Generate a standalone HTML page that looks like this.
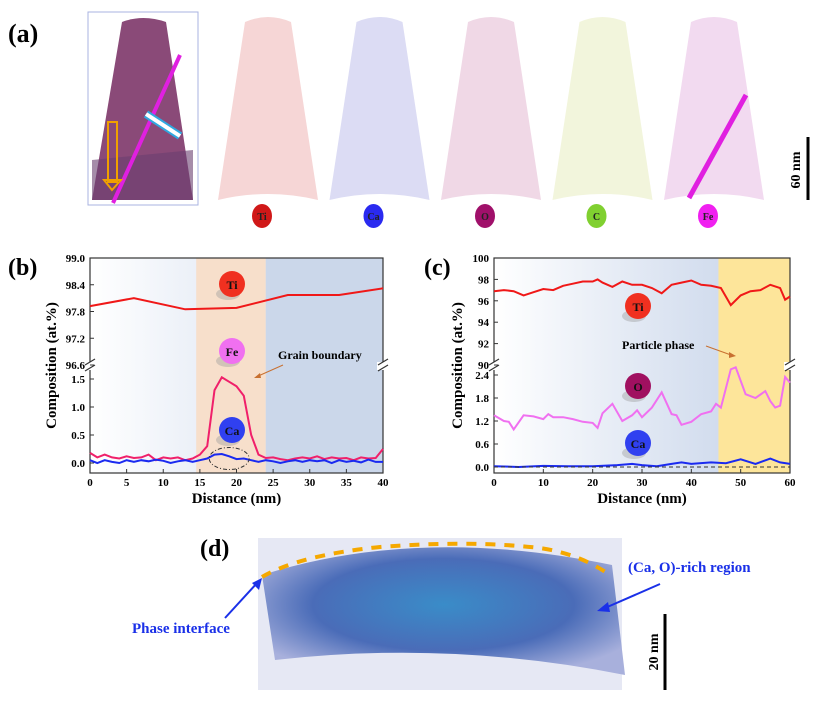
<!DOCTYPE html>
<html><head><meta charset="utf-8">
<style>
html,body{margin:0;padding:0;background:#fff;}
svg{display:block;font-family:"Liberation Serif",serif;font-weight:bold;}
</style></head>
<body>
<svg id="fig" width="834" height="710" viewBox="0 0 834 710" xmlns="http://www.w3.org/2000/svg">
<defs>
 <linearGradient id="gb" x1="0" x2="1"><stop offset="0" stop-color="#fff"/><stop offset="1" stop-color="#c9d6eb"/></linearGradient>
 <linearGradient id="gc" x1="0" x2="1"><stop offset="0" stop-color="#fff"/><stop offset="1" stop-color="#c3d1e8"/></linearGradient>
 <radialGradient id="cloud" cx="0.5" cy="0.45" r="0.6"><stop offset="0" stop-color="#3a8cc8"/><stop offset="0.6" stop-color="#4a6cb8"/><stop offset="1" stop-color="#a8b0dc"/></radialGradient>
</defs>
<g id="pa">
 <text x="8" y="42" font-size="26">(a)</text>
 <rect x="88" y="12" width="110" height="193" fill="#fff" stroke="#a9b3e0"/>
 <path d="M122,22 Q143,14 166,22 L193,200 L92,200 Z" fill="#8a4a78"/>
 <path d="M92,160 L193,150 L193,200 L92,200 Z" fill="#6a4070" opacity="0.6"/>
 <path d="M113,203 L180,55" stroke="#e020e0" stroke-width="4"/>
 <rect x="108" y="122" width="9" height="60" fill="none" stroke="#f0a000" stroke-width="2"/>
 <path d="M104,180 L121,180 L112,190 Z" fill="none" stroke="#f0a000" stroke-width="2"/>
 <path d="M146,114 L180,136" stroke="#30a8e0" stroke-width="8" fill="none"/>
 <path d="M146,114 L180,136" stroke="#fff" stroke-width="4" fill="none"/>
</g>
<g id="tips"></g>
<g>
 <line x1="808" y1="137" x2="808" y2="200" stroke="#000" stroke-width="3"/>
 <text transform="translate(800,170) rotate(-90)" font-size="14" text-anchor="middle">60 nm</text>
</g>

<g id="pb"></g>
<g id="pc"></g>

<g id="pd">
 <text x="200" y="556" font-size="24">(d)</text>
 <rect x="258" y="538" width="364" height="152" fill="#e6e8f4"/>
 <path d="M262,575 Q420,525 612,565 L625,675 Q450,640 275,660 Z" fill="url(#cloud)"/>
 <path d="M262,577 Q300,555 380,547 Q470,540 540,548 Q580,554 610,575" fill="none" stroke="#f5a800" stroke-width="4" stroke-dasharray="10,9"/>
 <text x="132" y="633" font-size="15" fill="#1a30e8">Phase interface</text>
 <line x1="225" y1="618" x2="258" y2="582" stroke="#1a30e8" stroke-width="2"/>
 <path d="M262,578 L252,583 L259,590 Z" fill="#1a30e8"/>
 <text x="628" y="572" font-size="15" fill="#1a30e8">(Ca, O)-rich region</text>
 <line x1="660" y1="584" x2="605" y2="608" stroke="#1a30e8" stroke-width="2"/>
 <path d="M597,611 L608,602 L610,612 Z" fill="#1a30e8"/>
 <line x1="665" y1="614" x2="665" y2="690" stroke="#000" stroke-width="3"/>
 <text transform="translate(658,652) rotate(-90)" font-size="14" text-anchor="middle">20 nm</text>
</g>
</svg>
<script>
// ---- Panel b data ----
const bTiX=[0,6,13,20,27,34,40];
const bTiY=[97.92,98.1,97.85,97.88,98.17,98.17,98.32];
const bFeX=[0,1,2,3,4,5,6,7,8,9,10,11,12,13,14,15,16,17,18,19,20,21,22,23,24,25,26,27,28,29,30,31,32,33,34,35,36,37,38,39,40];
const bFeY=[0.18,0.1,0.15,0.1,0.08,0.12,0.09,0.1,0.15,0.05,0.1,0.08,0.1,0.05,0.08,0.15,0.3,1.3,1.53,1.45,1.37,1.2,0.5,0.15,0.09,0.1,0.07,0.05,0.08,0.1,0.08,0.12,0.07,0.1,0.08,0.09,0.05,0.1,0.08,0.09,0.25];
const bCaY=[0.05,0,0.05,0.02,0,0.05,0.02,0.05,0.03,0.06,0.04,0,0.03,0.05,0.02,0.05,0.08,0.15,0.16,0.12,0.07,0.08,0.05,0.02,0.05,0.03,0,0.03,0.05,0.02,0.05,0.03,0.05,0,0.05,0.02,0.04,0.01,0.06,0.02,0.02];
const bXTicks=[0,5,10,15,20,25,30,35,40];
const bUpTicks=[99.0,98.4,97.8,97.2,96.6];
const bLoTicks=[1.5,1.0,0.5,0.0];
// ---- Panel c data ----
const cTiX=[0,2,4,6,8,10,12,14,16,18,20,21,22,24,26,28,30,32,34,36,38,40,42,44,46,48,50,52,54,56,58,59,60];
const cTiY=[96.9,97.0,96.9,96.5,96.8,97.1,97.0,97.4,97.6,97.8,97.8,98.0,97.7,97.3,97.8,97.5,97.5,97.2,96.7,97.5,97.7,97.9,97.5,97.4,97.2,95.6,96.5,96.9,97.0,97.5,97.2,96.1,96.4];
const cOX=[0,2,3,4,6,8,10,11,12,14,16,18,20,21,22,24,26,28,29,30,32,34,36,37,38,40,42,44,45,46,48,49,51,53,55,56,57,58,59,60];
const cOY=[1.35,1.2,1.18,0.98,1.35,1.32,1.25,1.38,1.3,1.3,1.25,1.18,1.15,1.02,1.4,1.65,1.2,1.35,1.48,1.3,1.55,1.95,1.38,1.35,1.1,1.18,1.38,1.45,1.65,1.55,2.55,2.6,1.9,1.8,1.98,1.72,1.55,1.6,2.35,2.2];
const cCaX=[0,5,10,15,20,25,28,30,33,36,38,40,44,47,50,53,56,58,60];
const cCaY=[0.02,0.0,0.03,0.02,0.02,0.05,0.08,0.05,0.02,0.08,0.12,0.08,0.12,0.1,0.2,0.08,0.22,0.12,0.08];
const cXTicks=[0,10,20,30,40,50,60];
const cUpTicks=[100,98,96,94,92,90];
const cLoTicks=[2.4,1.8,1.2,0.6,0.0];
// ---- Panel a ----
const tipNames=['Ti','Ca','O','C','Fe'];
const tipFill=['#f6d6d6','#dcdcf4','#f0d8e6','#f2f5dc','#f2daf0'];
const ballFill=['#d01818','#2a2af0','#a0106a','#80d030','#f020f0'];

const NS='http://www.w3.org/2000/svg';
function mk(parent,tag,attrs,txt){const e=document.createElementNS(NS,tag);for(const k in attrs)e.setAttribute(k,attrs[k]);if(txt!==undefined)e.textContent=txt;parent.appendChild(e);return e;}

const tips=document.getElementById('tips');
tipNames.forEach((n,i)=>{
  const x0=218+i*111.5;
  const t=mk(tips,'path',{d:`M${x0+27},22 Q${x0+50},12 ${x0+73},22 L${x0+100},200 Q${x0+50},188 ${x0},200 Z`,fill:tipFill[i]});
  
  
  const b=mk(tips,'ellipse',{cx:x0+44,cy:216,rx:10,ry:12,fill:ballFill[i]});
  
  
  mk(tips,'text',{x:x0+44,y:220,'font-size':10,'text-anchor':'middle',fill:'#222'},n);
});
{
  const x0=218+4*111.5;
  const f=mk(tips,'path',{d:`M${x0+25},198 L${x0+82},95`,stroke:'#e020e0','stroke-width':5});
  
  
}

function panel(g,o){
  const {x0,x1,xmax,top,brk,lo0,lo1,bot,up,low}=o;
  const X=v=>x0+(x1-x0)*v/xmax;
  const YU=v=>top+(up[0]-v)/(up[0]-up[1])*(brk-top);
  const YL=v=>lo1+(low[0]-v)/(low[0]-low[1])*(lo0-lo1);
  mk(g,'rect',{x:x0,y:top,width:x1-x0,height:bot-top,fill:o.bg});
  const band=mk(g,'rect',{x:X(o.band[0]),y:top,width:X(o.band[1])-X(o.band[0]),height:bot-top,fill:o.bandFill});
  
  
  if(o.rightFill)mk(g,'rect',{x:X(o.band[1]),y:top,width:x1-X(o.band[1]),height:bot-top,fill:o.rightFill});
  mk(g,'rect',{x:x0,y:top,width:x1-x0,height:bot-top,fill:'none',stroke:'#333','stroke-width':1.2});
  mk(g,'rect',{x:x0-8,y:brk-3,width:12,height:8,fill:'#fff'});
  mk(g,'rect',{x:x1-6,y:brk-3,width:12,height:8,fill:'#fff'});
  [[x0,brk-3],[x0,brk+3],[x1,brk-3],[x1,brk+3]].forEach(([x,y])=>mk(g,'line',{x1:x-5,y1:y+3,x2:x+5,y2:y-3,stroke:'#333','stroke-width':1.2}));
  o.xt.forEach(v=>{mk(g,'line',{x1:X(v),y1:bot,x2:X(v),y2:bot-4,stroke:'#333'});
    const t=mk(g,'text',{x:X(v),y:bot+13,'font-size':11,'text-anchor':'middle'},String(v));
    });
  o.ut.forEach(v=>{mk(g,'line',{x1:x0,y1:YU(v),x2:x0+4,y2:YU(v),stroke:'#333'});
    const t=mk(g,'text',{x:x0-5,y:YU(v)+4,'font-size':11,'text-anchor':'end'},o.uf(v));
    });
  o.lt.forEach(v=>{mk(g,'line',{x1:x0,y1:YL(v),x2:x0+4,y2:YL(v),stroke:'#333'});
    const t=mk(g,'text',{x:x0-5,y:YL(v)+4,'font-size':11,'text-anchor':'end'},v.toFixed(1));
    });
  const xl=mk(g,'text',{x:(x0+x1)/2,y:bot+30,'font-size':15,'text-anchor':'middle'},'Distance (nm)');
  
  const yl=mk(g,'text',{transform:`translate(${o.ylx},${(top+bot)/2}) rotate(-90)`,'font-size':15,'text-anchor':'middle'},'Composition (at.%)');
  
  const pl=mk(g,'text',{x:o.lx,y:top+17,'font-size':24},o.label);
  
  o.series.forEach(s=>{
    const Y=s.upper?YU:YL;
    const p=mk(g,'polyline',{points:s.x.map((v,i)=>X(v).toFixed(1)+','+Y(s.y[i]).toFixed(1)).join(' '),fill:'none',stroke:s.c,'stroke-width':2});
    
  });
  o.balls.forEach(b=>{
    mk(g,'ellipse',{cx:b[0]-4,cy:b[1]+10,rx:12,ry:6,fill:'#999',opacity:0.4});
    const e=mk(g,'circle',{cx:b[0],cy:b[1],r:13,fill:b[2]});
    
    mk(g,'text',{x:b[0],y:b[1]+5,'font-size':12,'text-anchor':'middle',fill:'#111'},b[3]);
  });
  return {X,YU,YL};
}
const gb=document.getElementById('pb');
const B=panel(gb,{x0:90,x1:383,xmax:40,top:258,brk:365,lo0:463,lo1:379,bot:473,up:[99,96.6],low:[1.5,0],
  bg:'url(#gb)',band:[14.5,24],bandFill:'#f7dfcb',rightFill:'#cbd7ea',bandName:'grain-boundary-band',
  xt:bXTicks,ut:bUpTicks,lt:bLoTicks,uf:v=>v.toFixed(1),ylx:56,lx:8,label:'(b)',
  series:[{x:bTiX,y:bTiY,upper:true,c:'#f01818',name:'ti-line-b'},{x:bFeX,y:bFeY,c:'#f0206a',name:'fe-line-b'},{x:bFeX,y:bCaY,c:'#1a2af0',name:'ca-line-b'}],
  balls:[[232,284,'#f03020','Ti'],[232,351,'#f070f0','Fe'],[232,430,'#3040f0','Ca']]});
mk(gb,'text',{x:278,y:359,'font-size':12},'Grain boundary');
mk(gb,'line',{x1:283,y1:365,x2:256,y2:377,stroke:'#c87030','stroke-width':1});
mk(gb,'path',{d:'M254,378 L260,373 L261,378 Z',fill:'#c87030'});
mk(gb,'ellipse',{cx:B.X(19),cy:B.YL(0.08),rx:20,ry:11,fill:'none',stroke:'#333','stroke-dasharray':'4,2,1,2'});

const gc=document.getElementById('pc');
const C=panel(gc,{x0:494,x1:790,xmax:60,top:258,brk:365,lo0:467,lo1:375,bot:473,up:[100,90],low:[2.4,0],
  bg:'url(#gc)',band:[45.5,60],bandFill:'#fde59a',bandName:'particle-phase-band',
  xt:cXTicks,ut:cUpTicks,lt:cLoTicks,uf:v=>String(v),ylx:462,lx:424,label:'(c)',
  series:[{x:cTiX,y:cTiY,upper:true,c:'#f01818',name:'ti-line-c'},{x:cOX,y:cOY,c:'#f070f0',name:'o-line-c'},{x:cCaX,y:cCaY,c:'#1a2af0',name:'ca-line-c'}],
  balls:[[638,306,'#f03020','Ti'],[638,386,'#a01060','O'],[638,443,'#3040f0','Ca']]});
mk(gc,'line',{x1:494,y1:C.YL(0),x2:790,y2:C.YL(0),stroke:'#333','stroke-dasharray':'4,3'});
mk(gc,'text',{x:622,y:349,'font-size':12},'Particle phase');
mk(gc,'line',{x1:706,y1:346,x2:731,y2:355,stroke:'#c87030'});
mk(gc,'path',{d:'M736,356 L729,352 L729,358 Z',fill:'#c87030'});
</script>
</body></html>
